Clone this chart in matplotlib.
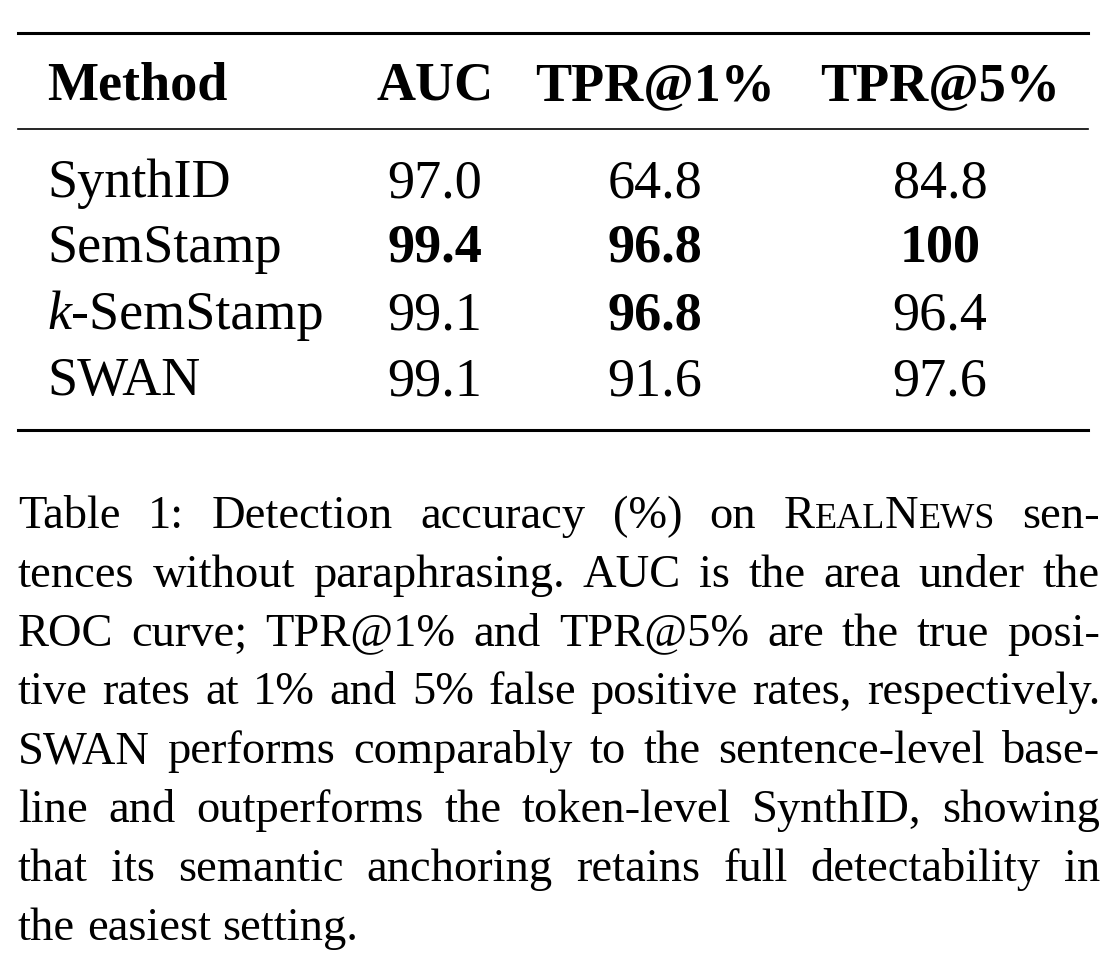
import matplotlib
matplotlib.use("Agg")
import matplotlib.pyplot as plt

plt.rcParams["font.family"] = ["Liberation Serif", "DejaVu Serif"]

headers = ["Method", "AUC", "TPR@1%", "TPR@5%"]
methods = ["SynthID", "SemStamp", "k-SemStamp", "SWAN"]
auc = ["97.0", "99.4", "99.1", "99.1"]
tpr1 = ["64.8", "96.8", "96.8", "91.6"]
tpr5 = ["84.8", "100", "96.4", "97.6"]
bold = {(1, 1), (1, 2), (1, 3), (2, 2)}

# caption: each line is a list of words, each word a list of (text, size)
S, SC = 33.5, 26
def w(t):
    return [(t, S)]
caption = [
    [w(x) for x in "Table 1: Detection accuracy (%) on".split()]
    + [[("R", S), ("EAL", SC), ("N", S), ("EWS", SC)], w("sen-")],
    [w(x) for x in "tences without paraphrasing. AUC is the area under the".split()],
    [w(x) for x in "ROC curve; TPR@1% and TPR@5% are the true posi-".split()],
    [w(x) for x in "tive rates at 1% and 5% false positive rates, respectively.".split()],
    [w(x) for x in "SWAN performs comparably to the sentence-level base-".split()],
    [w(x) for x in "line and outperforms the token-level SynthID, showing".split()],
    [w(x) for x in "that its semantic anchoring retains full detectability in".split()],
    [w(x) for x in "the easiest setting.".split()],
]

fig = plt.figure(figsize=(11.2, 9.6), dpi=100)
ax = fig.add_axes([0, 0, 1, 1])
ax.set_xlim(0, 1120)
ax.set_ylim(960, 0)
ax.axis("off")
renderer = fig.canvas.get_renderer()

# rules
ax.plot([18, 1088], [33, 33], color="black", lw=2.2)
ax.plot([18, 1088], [129, 129], color="black", lw=1.2)
ax.plot([18, 1088], [430, 430], color="black", lw=2.2)

TS = 39
col_x = [47, 435, 655, 940]
ax.text(col_x[0], 100, headers[0], fontsize=TS, fontweight="bold", va="baseline", ha="left")
for j in range(1, 4):
    ax.text(col_x[j], 100, headers[j], fontsize=TS, fontweight="bold", va="baseline", ha="center")

row_y = [197, 262, 329, 395]
for i, m in enumerate(methods):
    if m.startswith("k-"):
        t = ax.text(col_x[0], row_y[i], "k", fontsize=TS, style="italic", va="baseline")
        wk = t.get_window_extent(renderer).width
        ax.text(col_x[0] + wk, row_y[i], m[1:], fontsize=TS, va="baseline")
    else:
        ax.text(col_x[0], row_y[i], m, fontsize=TS, va="baseline")
    for j, vals in enumerate([auc, tpr1, tpr5], start=1):
        ax.text(col_x[j], row_y[i], vals[i], fontsize=TS, va="baseline", ha="center",
                fontweight="bold" if (i, j) in bold else "normal")

# justified caption
x0, x1 = 18, 1100
base = 528
step = 58.8
t1 = ax.text(0, 0, "a a", fontsize=S)
t2 = ax.text(0, 0, "a", fontsize=S)
space = t1.get_window_extent(renderer).width - 2 * t2.get_window_extent(renderer).width
t1.remove()
t2.remove()
for li, line in enumerate(caption):
    y = base + li * step
    arts = []
    widths = []
    for word in line:
        parts = []
        wsum = 0
        for txt, sz in word:
            t = ax.text(0, y, txt, fontsize=sz, va="baseline")
            parts.append(t)
            wsum += t.get_window_extent(renderer).width
        arts.append(parts)
        widths.append(wsum)
    if li < len(caption) - 1:
        gap = (x1 - x0 - sum(widths)) / (len(widths) - 1)
    else:
        gap = space
    x = x0
    for parts in arts:
        for t in parts:
            t.set_x(x)
            x += t.get_window_extent(renderer).width
        x += gap

fig.savefig("out.png", dpi=100)
